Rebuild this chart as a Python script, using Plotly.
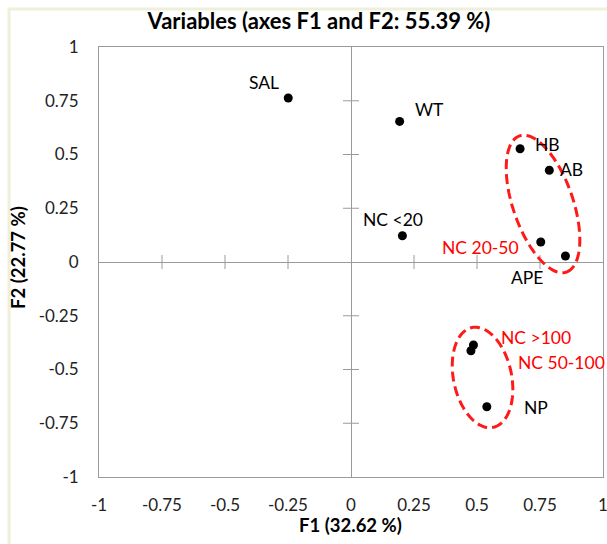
import numpy as np
import plotly.graph_objects as go

# ---- data ----
labels = ["SAL", "WT", "NC <20", "HB", "AB", "NC 20-50", "APE", "NC >100", "NC 50-100", "NP"]
f1 = [-0.249, 0.193, 0.204, 0.671, 0.787, 0.753, 0.851, 0.486, 0.476, 0.539]
f2 = [0.763, 0.654, 0.122, 0.527, 0.427, 0.093, 0.028, -0.386, -0.413, -0.673]
label_colors = ["black", "black", "black", "black", "black", "red", "black", "red", "red", "black"]
tick_vals = [-1, -0.75, -0.5, -0.25, 0, 0.25, 0.5, 0.75, 1]
tick_text = ["-1", "-0.75", "-0.5", "-0.25", "0", "0.25", "0.5", "0.75", "1"]

# label placement (pixel offsets, anchor)
label_pos = {
    "SAL": (-24, 15, "center"),
    "WT": (30, 12, "center"),
    "NC <20": (-9, 16, "center"),
    "HB": (27, 4, "center"),
    "AB": (22, 1, "center"),
    "NC 20-50": (-20, -5, "right"),
    "APE": (-38, -22, "center"),
    "NC >100": (26, 7, "left"),
    "NC 50-100": (45, -12, "left"),
    "NP": (35, -1, "left"),
}

FONT = "Lato, 'Open Sans', sans-serif"
W, H = 607, 544
ML, MT = 99, 47
PW, PH = 504, 430
MR, MB = W - ML - PW, H - MT - PH
SX, SY = PW / 2.0, PH / 2.0  # px per unit
AXC = "#9a9a9a"


def px_x(p):  # page pixel x -> paper
    return (p - ML) / PW


def px_y(p):  # page pixel y -> paper
    return (MT + PH - p) / PH


fig = go.Figure()
fig.add_trace(go.Scatter(x=f1, y=f2, mode="markers",
                         marker=dict(color="black", size=9),
                         hoverinfo="text", text=labels, showlegend=False))

annotations = []
for lab, x, y, c in zip(labels, f1, f2, label_colors):
    dx, dy, anc = label_pos[lab]
    annotations.append(dict(x=x, y=y, xref="x", yref="y", text=lab, showarrow=False,
                            xshift=dx, yshift=dy, xanchor=anc, yanchor="middle",
                            font=dict(family=FONT, size=17.5, color=c)))

# axis titles
annotations.append(dict(x=px_x(350), y=px_y(525), xref="paper", yref="paper",
                        text="<b>F1 (32.62 %)</b>", showarrow=False, xanchor="center", yanchor="middle",
                        font=dict(family=FONT, size=18.5, color="black")))
annotations.append(dict(x=px_x(18), y=px_y(258), xref="paper", yref="paper",
                        text="<b>F2 (22.77 %)</b>", showarrow=False, xanchor="center", yanchor="middle",
                        textangle=-90, font=dict(family=FONT, size=18.5, color="black")))

shapes = []
# tick crosses on the zero lines
for v in tick_vals:
    if v in (-1, 0, 1):
        continue
    shapes.append(dict(type="line", xref="x", yref="y", x0=-8 / SX, x1=8 / SX, y0=v, y1=v,
                       line=dict(color=AXC, width=1)))
    shapes.append(dict(type="line", xref="x", yref="y", x0=v, x1=v, y0=-7 / SY, y1=7 / SY,
                       line=dict(color=AXC, width=1)))

# dashed ellipses (center in data units, semi-axes in px, tilt in degrees)
ellipses = [(0.762, 0.270, 72, 30, 19), (0.522, -0.537, 51, 29, 12)]
t = np.linspace(0, 2 * np.pi, 121)
for cx, cy, a, b, ang in ellipses:
    th = np.radians(ang)
    u, v = a * np.cos(t), b * np.sin(t)
    px = u * np.sin(th) + v * np.cos(th)
    py = u * np.cos(th) - v * np.sin(th)
    xs = cx + px / SX
    ys = cy - py / SY
    path = "M " + " L ".join(f"{xx:.5f},{yy:.5f}" for xx, yy in zip(xs, ys)) + " Z"
    shapes.append(dict(type="path", xref="x", yref="y", path=path,
                       line=dict(color="#ff1a1a", width=3, dash="10px,5px")))

# faint beige frame at the top-left of the picture
BEIGE = "#eef0da"
shapes.append(dict(type="line", xref="paper", yref="paper",
                   x0=px_x(9), x1=px_x(9), y0=px_y(8), y1=px_y(560),
                   line=dict(color=BEIGE, width=3)))
shapes.append(dict(type="line", xref="paper", yref="paper",
                   x0=px_x(8), x1=px_x(620), y0=px_y(9), y1=px_y(9),
                   line=dict(color=BEIGE, width=3)))

axis_common = dict(range=[-1, 1], tickvals=tick_vals, ticktext=tick_text, showgrid=False,
                   zeroline=True, zerolinecolor=AXC, zerolinewidth=1,
                   showline=True, linecolor=AXC, linewidth=1, mirror=True, ticks="",
                   ticklabeloverflow="allow", automargin=False,
                   tickfont=dict(family=FONT, size=17, color="#222222"))

fig.update_layout(
    width=W, height=H,
    margin=dict(l=ML, r=MR, t=MT, b=MB, pad=0, autoexpand=False),
    paper_bgcolor="white", plot_bgcolor="white",
    title=dict(text="<b>Variables (axes F1 and F2: 55.39 %)</b>", x=319 / W,
               y=1 - 21 / H, automargin=False,
               xanchor="center", yanchor="middle", xref="container", yref="container",
               font=dict(family=FONT, size=22, color="black")),
    xaxis=dict(**axis_common, ticklabelstandoff=13),
    yaxis=dict(**axis_common, ticklabelstandoff=16),
    annotations=annotations,
    shapes=shapes,
)

fig.write_html("out.html", config={"displayModeBar": False},
               post_script="document.body.style.margin='0';document.body.style.overflow='hidden';")
